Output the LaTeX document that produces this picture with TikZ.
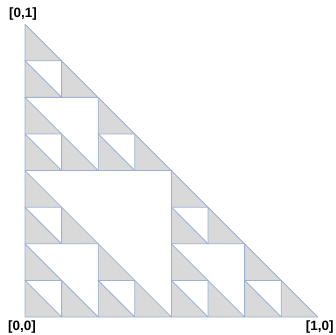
\documentclass[tikz,border=0pt]{standalone}
\usepackage{fontspec}
\setmainfont{Liberation Sans}
\usetikzlibrary{calc}
\definecolor{triFill}{HTML}{D9D9D9}
\definecolor{triLine}{HTML}{9DB1D5}
\tikzset{
  tri/.style={fill=triFill, draw=triLine, line width=0.8pt, line join=round},
  corner/.style={font=\bfseries\fontsize{13.5}{15}\selectfont, inner sep=0pt}
}
\begin{document}
\begin{tikzpicture}[x=1pt,y=1pt]
\useasboundingbox (0,0) rectangle (336,334);
\def\u{36.6}
\coordinate (O) at (25,17);
\foreach \i/\j in {0/0,1/0,2/0,3/0,4/0,5/0,6/0,7/0,
                   0/1,2/1,4/1,6/1,
                   0/2,1/2,4/2,5/2,
                   0/3,4/3,
                   0/4,1/4,2/4,3/4,
                   0/5,2/5,
                   0/6,1/6,
                   0/7}{
  \draw[tri] ($(O)+(\i*\u,\j*\u)$) -- ++(\u,0) -- ++(-\u,\u) -- cycle;
}
\coordinate (A) at (25,17);
\coordinate (B) at (317.8,17);
\coordinate (C) at (25,309.8);
\node[corner, anchor=north] (la) at ([xshift=-3pt,yshift=-4pt]A) {[0,0]};
\node[corner, anchor=north] (lb) at ([xshift=2pt,yshift=-4pt]B) {[1,0]};
\node[corner, anchor=south] (lc) at ([xshift=-2pt,yshift=4pt]C) {[0,1]};
\end{tikzpicture}
\end{document}
